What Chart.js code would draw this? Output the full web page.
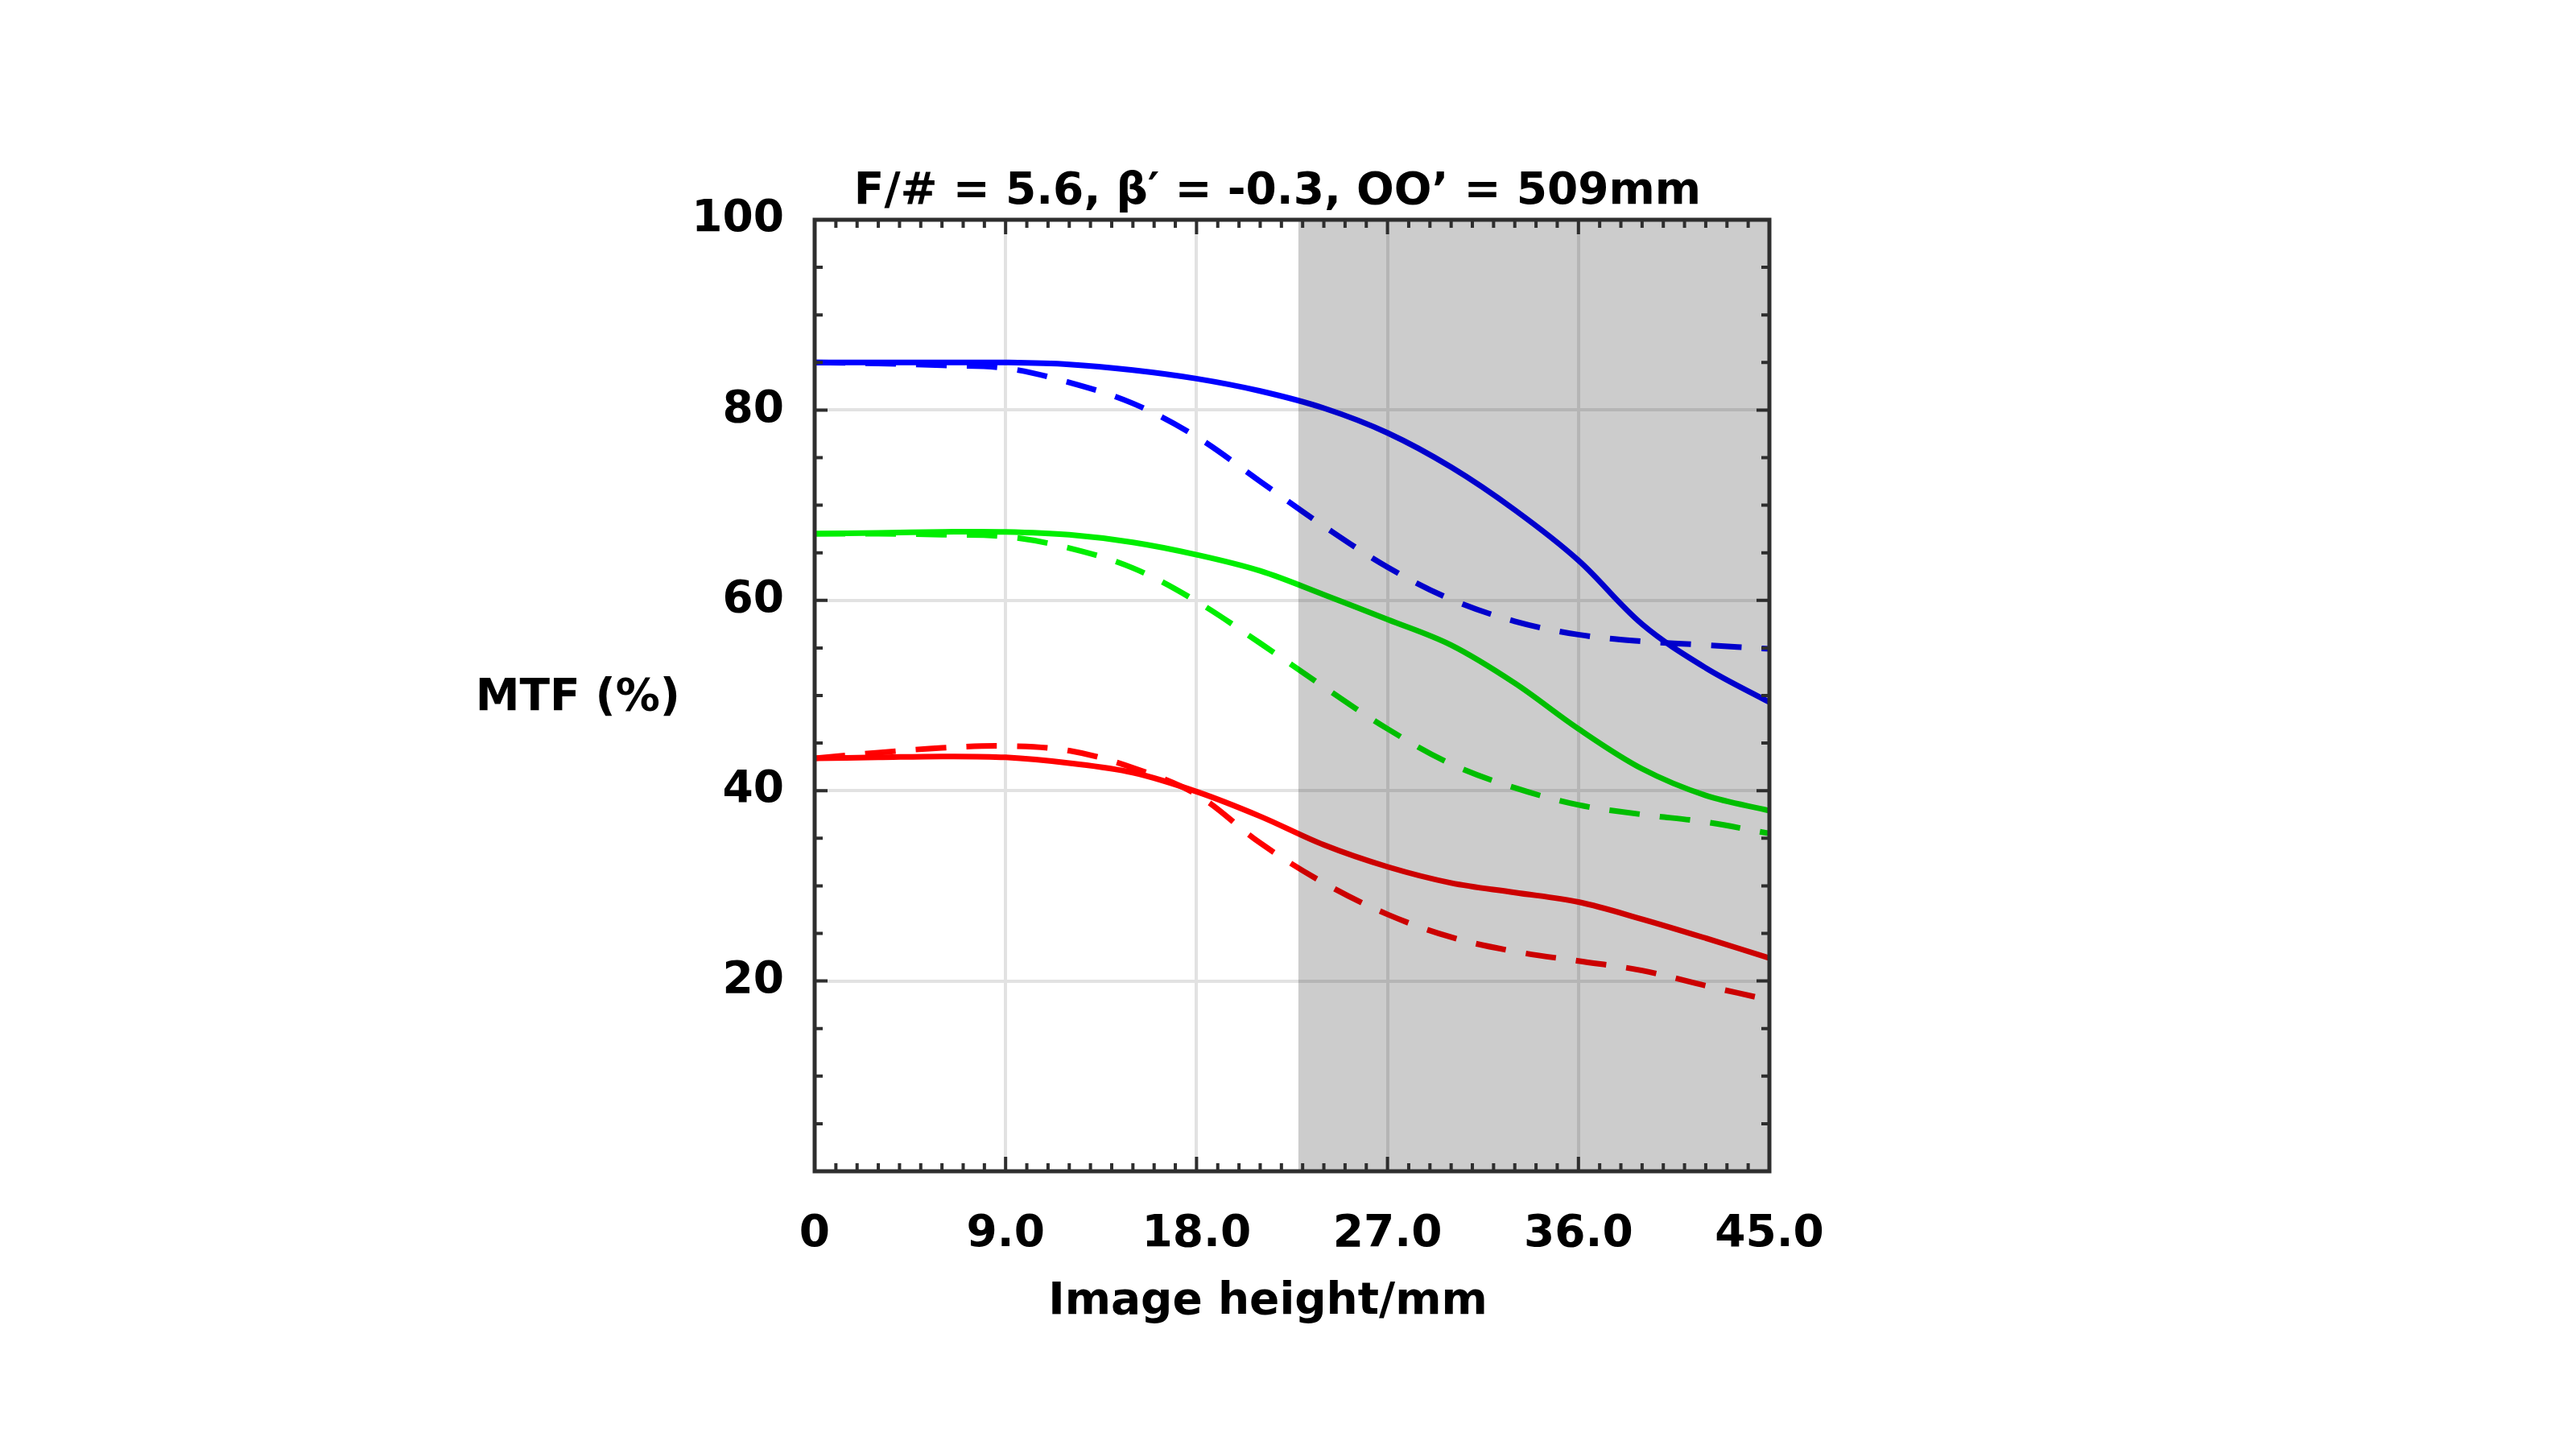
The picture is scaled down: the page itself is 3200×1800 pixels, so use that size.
<!DOCTYPE html>
<html>
<head>
<meta charset="utf-8">
<title>MTF</title>
<script src="https://cdn.jsdelivr.net/npm/chart.js@4.4.1/dist/chart.umd.min.js"></script>
<style>
  html, body { margin: 0; padding: 0; background: #fff; }
  #mtfChart { display: block; }
</style>
</head>
<body>
<canvas id="mtfChart" width="3200" height="1800"></canvas>
<script>
// image height (mm) sample points
const imageHeights = [0, 3, 6, 9, 12, 15, 18, 21, 24, 27, 30, 33, 36, 39, 42, 45];

// MTF values (%)
const blueSolid  = [85.0, 85.0, 85.0, 85.0, 84.8, 84.2, 83.3, 82.0, 80.2, 77.6, 74.0, 69.5, 64.2, 57.5, 52.9, 49.3];
const blueDash   = [85.0, 84.9, 84.7, 84.4, 82.9, 80.7, 77.2, 72.5, 67.8, 63.5, 60.1, 57.8, 56.4, 55.7, 55.3, 54.9];
const greenSolid = [67.0, 67.1, 67.2, 67.2, 66.9, 66.1, 64.8, 63.1, 60.6, 58.0, 55.3, 51.3, 46.5, 42.3, 39.5, 37.9];
const greenDash  = [67.0, 67.0, 66.9, 66.7, 65.5, 63.4, 59.9, 55.5, 50.9, 46.5, 42.8, 40.3, 38.5, 37.5, 36.7, 35.5];
const redSolid   = [43.4, 43.5, 43.6, 43.5, 42.9, 41.9, 39.9, 37.3, 34.3, 32.0, 30.3, 29.3, 28.3, 26.5, 24.5, 22.4];
const redDash    = [43.4, 44.0, 44.5, 44.7, 44.2, 42.4, 39.6, 34.5, 30.3, 27.0, 24.6, 23.1, 22.1, 21.1, 19.5, 18.0];

const xTickStep = 9;
const yTickStep = 20;
const shadeStart = 22.8;   // start of grey band (mm)

const titleText = "F/# = 5.6, \u03B2\u2032 = -0.3, OO\u2019 = 509mm";
const xTitle = "Image height/mm";
const yTitle = "MTF (%)";

const FONT = '"DejaVu Sans", sans-serif';

function pts(ys) {
  return imageHeights.map((x, i) => ({ x: x, y: ys[i] }));
}

function line(ys, color, dashed) {
  return {
    data: pts(ys),
    borderColor: color,
    borderWidth: 7,
    borderDash: dashed ? [38, 25] : [],
    pointRadius: 0,
    fill: false,
    tension: 0.35
  };
}

// grey band, multiplied over grid and curves
const shadePlugin = {
  id: "shade",
  afterDatasetsDraw(chart) {
    const { ctx, chartArea, scales } = chart;
    const x0 = scales.x.getPixelForValue(shadeStart);
    ctx.save();
    ctx.globalCompositeOperation = "multiply";
    ctx.fillStyle = "#cccccc";
    ctx.fillRect(x0, chartArea.top, chartArea.right - x0, chartArea.bottom - chartArea.top);
    ctx.restore();
  }
};

// box frame with inward ticks on all sides, plus titles
const framePlugin = {
  id: "frame",
  afterDraw(chart) {
    const { ctx, chartArea: a, scales } = chart;
    ctx.save();
    ctx.strokeStyle = "#2e2e2e";
    ctx.lineWidth = 4;
    ctx.beginPath();
    for (let v = 0; v <= 45; v += 1) {
      const px = scales.x.getPixelForValue(v);
      const len = v % xTickStep === 0 ? 18 : 10;
      ctx.moveTo(px, a.bottom); ctx.lineTo(px, a.bottom - len);
      ctx.moveTo(px, a.top); ctx.lineTo(px, a.top + len);
    }
    for (let v = 0; v <= 100; v += 5) {
      const py = scales.y.getPixelForValue(v);
      const len = v % yTickStep === 0 ? 16 : 10;
      ctx.moveTo(a.left, py); ctx.lineTo(a.left + len, py);
      ctx.moveTo(a.right, py); ctx.lineTo(a.right - len, py);
    }
    ctx.stroke();

    ctx.lineWidth = 5;
    ctx.strokeRect(a.left, a.top, a.right - a.left, a.bottom - a.top);

    ctx.fillStyle = "#000";
    ctx.font = "bold 55px " + FONT;
    ctx.textAlign = "center";
    ctx.textBaseline = "middle";
    const cx = (a.left + a.right) / 2;
    ctx.fillText(titleText, cx - 18, a.top - 34);
    ctx.fillText(xTitle, cx - 30, a.bottom + 163);
    ctx.textAlign = "right";
    ctx.fillText(yTitle, a.left - 167, (a.top + a.bottom) / 2 + 4);
    ctx.restore();
  }
};

const ctx = document.getElementById("mtfChart").getContext("2d");

new Chart(ctx, {
  type: "line",
  data: {
    datasets: [
      line(redSolid, "#ff0000", false),
      line(redDash, "#ff0000", true),
      line(greenSolid, "#00ee00", false),
      line(greenDash, "#00ee00", true),
      line(blueSolid, "#0000ff", false),
      line(blueDash, "#0000ff", true)
    ]
  },
  options: {
    responsive: false,
    devicePixelRatio: 1,
    animation: false,
    layout: { padding: { left: 862, right: 1002, top: 273, bottom: 195 } },
    plugins: {
      legend: { display: false },
      tooltip: { enabled: false }
    },
    scales: {
      x: {
        type: "linear",
        min: 0,
        max: 45,
        afterFit(scale) { scale.height = 150; },
        border: { display: false },
        grid: { color: "#e2e2e2", lineWidth: 4, drawTicks: false },
        ticks: {
          stepSize: xTickStep,
          padding: 46,
          color: "#000",
          font: { family: FONT, size: 55, weight: "bold" },
          callback: (v) => (v === 0 ? "0" : v.toFixed(1))
        }
      },
      y: {
        min: 0,
        max: 100,
        afterFit(scale) { scale.width = 150; },
        border: { display: false },
        grid: { color: "#e2e2e2", lineWidth: 4, drawTicks: false },
        ticks: {
          stepSize: yTickStep,
          padding: 38,
          color: "#000",
          font: { family: FONT, size: 55, weight: "bold" },
          callback: (v) => (v === 0 ? "" : v)
        }
      }
    }
  },
  plugins: [shadePlugin, framePlugin]
});
</script>
</body>
</html>
